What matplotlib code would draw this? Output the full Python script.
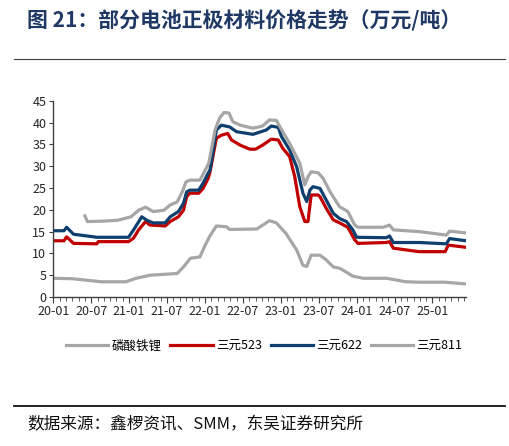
import matplotlib
matplotlib.use("Agg")
import matplotlib.pyplot as plt
from matplotlib.lines import Line2D
from matplotlib.ticker import MultipleLocator

plt.rcParams['font.family'] = ['Noto Sans CJK SC', 'DejaVu Sans']

# x = months since 2020-01
lfp_x = [0, 3, 7.6, 11.5, 13.1, 15.3, 19.6, 20.6, 21.7, 23.2, 24.0, 24.7, 25.8, 27.4, 27.9, 32.2,
         34.2, 35.3, 36.8, 38.5, 39.5, 40.1, 40.8, 42.2, 43.2, 44.3, 45.3, 45.8, 47.4, 49, 52.7,
         55.8, 58, 62, 65.3]
lfp_y = [4.3, 4.2, 3.5, 3.5, 4.3, 5.0, 5.4, 6.9, 8.9, 9.2, 11.8, 13.8, 16.3, 16.1, 15.5, 15.6,
         17.5, 17.0, 14.6, 10.8, 7.3, 7.0, 9.6, 9.6, 8.5, 6.9, 6.6, 6.2, 4.8, 4.3, 4.3,
         3.5, 3.4, 3.4, 3.0]

ncm523_x = [0, 1.7, 2.1, 3.2, 6.9, 7.1, 11.9, 12.7, 13.5, 14.6, 15.3, 17.7, 18.5, 19.8, 20.6, 21.1,
            21.6, 23.0, 23.7, 24.5, 24.8, 25.8, 26.6, 27.6, 28.2, 29.6, 31.1, 32.0, 33.1, 34.5,
            35.6, 36.3, 37.4, 38.2, 39.0, 39.8, 40.3, 40.8, 41.9, 42.2, 43.2, 44.3, 45.3, 46.6,
            47.7, 48.2, 52.7, 53.2, 53.8, 57.9, 62.0, 62.5, 65.3]
ncm523_y = [12.9, 12.9, 13.8, 12.3, 12.2, 12.7, 12.7, 13.5, 15.4, 17.3, 16.5, 16.3, 17.3, 18.4, 19.9, 23.0,
            23.8, 23.8, 24.9, 27.2, 28.7, 36.4, 37.1, 37.5, 36.0, 34.8, 33.9, 33.9, 34.8, 36.2,
            36.0, 34.1, 32.2, 27.6, 20.7, 17.3, 17.3, 23.4, 23.4, 23.0, 20.3, 17.7, 17.0, 16.0,
            13.1, 12.3, 12.5, 12.7, 11.2, 10.4, 10.4, 11.9, 11.4]

ncm622_x = [0, 1.7, 2.1, 3.2, 6.9, 11.9, 12.7, 14.0, 14.8, 15.8, 17.7, 18.5, 19.8, 20.6, 21.1, 21.6,
            23.0, 23.7, 24.5, 24.8, 25.8, 26.6, 27.9, 29.0, 31.6, 33.7, 34.5, 35.6, 36.1, 37.4,
            38.5, 39.5, 40.1, 40.6, 41.1, 42.2, 43.2, 44.3, 45.3, 46.4, 47.4, 48.0, 52.7, 53.2,
            53.8, 57.9, 62.2, 62.7, 65.3]
ncm622_y = [15.2, 15.2, 16.0, 14.4, 13.7, 13.7, 15.4, 18.4, 17.6, 17.0, 17.0, 18.4, 19.6, 21.5, 24.1, 24.5,
            24.5, 26.1, 28.4, 29.1, 38.3, 39.4, 39.0, 37.9, 37.3, 38.3, 39.2, 38.9, 36.8, 33.7,
            29.9, 23.8, 21.9, 24.5, 25.3, 24.9, 22.2, 19.2, 18.0, 17.3, 15.4, 13.7, 13.6, 14.0,
            12.5, 12.5, 12.2, 13.4, 12.9]

ncm811_x = [5.0, 5.4, 8.0, 10.2, 12.3, 13.5, 14.6, 15.8, 17.5, 18.5, 19.6, 20.4, 21.0, 21.6, 23.2,
            23.9, 24.6, 25.6, 26.3, 27.0, 27.8, 28.4, 29.6, 31.6, 33.1, 34.2, 35.3, 36.3, 37.4,
            39.0, 39.8, 40.3, 40.8, 41.9, 42.7, 43.8, 45.3, 46.6, 47.7, 48.2, 52.2, 53.2, 53.8,
            57.9, 62.2, 62.7, 65.3]
ncm811_y = [18.6, 17.3, 17.4, 17.6, 18.4, 19.9, 20.6, 19.6, 19.9, 21.1, 21.8, 24.1, 26.4, 26.8, 26.8,
            28.7, 30.7, 38.3, 41.0, 42.3, 42.2, 40.2, 39.4, 38.7, 39.2, 40.6, 40.5, 37.9, 35.2,
            30.7, 25.7, 27.6, 28.7, 28.5, 27.2, 24.1, 20.7, 19.6, 16.5, 16.0, 16.0, 16.5, 15.4,
            15.0, 14.2, 15.1, 14.7]

series_names = ['磷酸铁锂', '三元523', '三元622', '三元811']
tick_pos = [0, 6, 12, 18, 24, 30, 36, 42, 48, 54, 60]
tick_labels = ['20-01', '20-07', '21-01', '21-07', '22-01', '22-07', '23-01', '23-07',
               '24-01', '24-07', '25-01']

colors = ['#A6A6A6', '#C00000', '#0E3F6E', '#A6A6A6']

fig = plt.figure(figsize=(5.10, 4.46), dpi=100)
ax = fig.add_axes([0.1045, 0.334, 0.8092, 0.4401])

lw = 2.3
ax.plot(lfp_x, lfp_y, color=colors[0], lw=lw, solid_joinstyle='round')
ax.plot(ncm523_x, ncm523_y, color=colors[1], lw=lw, solid_joinstyle='round')
ax.plot(ncm622_x, ncm622_y, color=colors[2], lw=lw, solid_joinstyle='round')
ax.plot(ncm811_x, ncm811_y, color=colors[3], lw=lw, solid_joinstyle='round')

ax.set_xlim(0, 65.3)
ax.set_ylim(0, 45)
ax.yaxis.set_major_locator(MultipleLocator(5))
ax.set_xticks(tick_pos)
ax.set_xticklabels(tick_labels)
ax.xaxis.set_minor_locator(MultipleLocator(1))
for s in ['top', 'right']:
    ax.spines[s].set_visible(False)
for s in ['left', 'bottom']:
    ax.spines[s].set_color('#404040')
    ax.spines[s].set_linewidth(1.0)
ax.tick_params(axis='both', which='both', direction='out', color='#404040', labelsize=9,
               labelcolor='#262626')
ax.tick_params(axis='x', which='major', length=4, pad=2)
ax.tick_params(axis='x', which='minor', length=3)
ax.tick_params(axis='y', which='major', length=3, pad=2)

handles = [Line2D([], [], color=c, lw=2.3) for c in colors]
fig.legend(handles, series_names, loc='center', bbox_to_anchor=(0.518, 0.224), ncol=4,
           frameon=False, fontsize=9, handlelength=3.4, handletextpad=0.25,
           columnspacing=0.7)

fig.text(27 / 510, 1 - 21 / 446, '图 21：部分电池正极材料价格走势（万元/吨）', fontsize=15,
         fontweight='bold', color='#1F3864', va='center', ha='left')
fig.add_artist(Line2D([14 / 510, 505 / 510], [1 - 59 / 446, 1 - 59 / 446], color='#404040', lw=0.8))
fig.add_artist(Line2D([14 / 510, 505 / 510], [1 - 406 / 446, 1 - 406 / 446], color='#111111', lw=1.3))
fig.text(27 / 510, 1 - 425 / 446, '数据来源：鑫椤资讯、SMM，东吴证券研究所', fontsize=12,
         color='#111111', va='center', ha='left')

fig.savefig('out.png', dpi=100)
